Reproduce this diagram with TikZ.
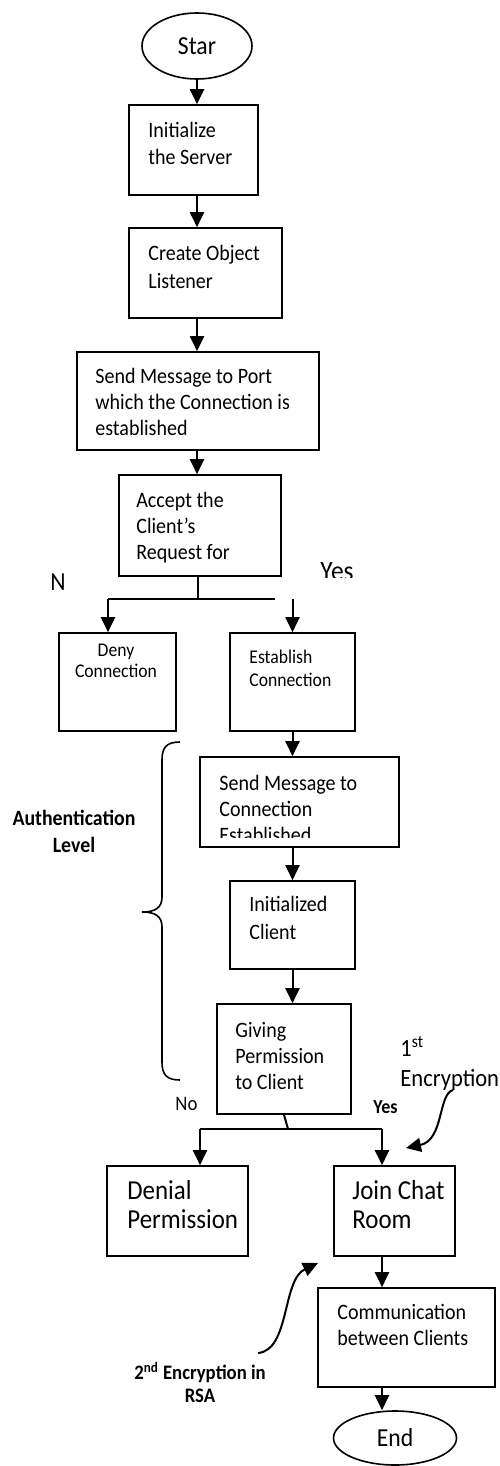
\documentclass[tikz,border=0pt]{standalone}
\usepackage{fontspec}
\setmainfont{Carlito}[FakeStretch=0.91]
\usetikzlibrary{arrows.meta,shapes.geometric,fit}
\newcommand{\fs}[2]{\fontsize{#1}{#2}\selectfont}

\begin{document}
\begin{tikzpicture}[x=0.5pt,y=-0.5pt,
    box/.style={draw,line width=0.8pt,inner sep=0pt},
    term/.style={draw,ellipse,line width=0.8pt,inner sep=0pt,font=\fs{13}{15}},
    txt/.style={inner sep=0pt,align=left,anchor=north west,font=\fs{11}{13}},
    tag/.style={inner sep=0pt,anchor=base west},
    lbl/.style={inner sep=0pt,align=center,anchor=north,font=\bfseries\fs{10.9}{13.5}},
    arr/.style={-{Triangle[length=7.5pt,width=7pt]},line width=1pt},
    wire/.style={line width=1pt}]
     \useasboundingbox (0,0) rectangle (499,1466);
     % main column
     \node[term,minimum width=55pt,minimum height=33pt] (star) at (197,46) {Star};
     \node[box,fit={(129,105) (258,195)}] (init) {};
     \node[txt,font=\fs{11}{13.5}] (init-t) at (148,122) {Initialize\\the Server};
     \node[box,fit={(129,228) (282,318)}] (obj) {};
     \node[txt,font=\fs{11}{14}] (obj-t) at (148,245) {Create Object\\Listener};
     \node[box,fit={(77,352) (319,450)}] (port) {};
     \node[txt] (port-t) at (95,368) {Send Message to Port\\which the Connection is\\established};
     \node[box,fit={(119,475) (281,576)}] (accept) {};
     \node[txt] (accept-t) at (136,492) {Accept the\\Client’s\\Request for};
     \draw[arr] (star.south) -- (star.south |- init.north);
     \draw[arr] (init.south -| star) -- (obj.north -| star);
     \draw[arr] (obj.south -| star) -- (port.north -| star);
     \draw[arr] (port.south -| star) -- (accept.north -| star);
     % first decision
     \node[tag,font=\fs{13}{15}] (n-lbl) at (50,590) {N};
     \begin{scope}
      \clip (300,540) rectangle (380,577);
      \node[tag,font=\fs{14}{16}] (yes-lbl) at (320,580) {Yes};
     \end{scope}
     \node[box,fit={(59,633) (176,731)}] (deny) {};
     \node[txt,anchor=north,align=center,font=\fs{9.7}{10.5}] (deny-t) at (116,644) {Deny\\Connection};
     \node[box,fit={(230,633) (355,731)}] (estab) {};
     \node[txt,font=\fs{9.7}{11.5}] (estab-t) at (249,650) {Establish\\Connection};
     \coordinate (fork) at (198,599);
     \coordinate (forkL) at (108,599);
     \coordinate (forkR) at (275,599);
     \draw[wire] (accept.south -| fork) -- (fork);
     \draw[wire] (forkL) -- (forkR);
     \draw[arr] (forkL) -- (forkL |- deny.north);
     \draw[arr] (estab.north |- forkR) -- (estab.north);
     % authentication level
     \node[box,fit={(200,757) (399,847)}] (sendc) {};
     \begin{scope}
      \clip (200,757) rectangle (399,837);
      \node[txt] (sendc-t) at (219,775) {Send Message to\\Connection\\Established};
     \end{scope}
     \node[box,fit={(230,881) (355,969)}] (initc) {};
     \node[txt,font=\fs{11}{14}] (initc-t) at (249,896) {Initialized\\Client};
     \node[box,fit={(217,1004) (351,1114)}] (giving) {};
     \node[txt] (giving-t) at (235,1022) {Giving\\Permission\\to Client};
     \draw[arr] (estab.south) -- (estab.south |- sendc.north);
     \draw[arr] (sendc.south -| estab) -- (initc.north -| estab);
     \draw[arr] (initc.south) -- (initc.south |- giving.north);
     \draw[line width=0.8pt] (180,742) .. controls (166,742) and (162,748) .. (162,760)
        -- (162,897) .. controls (162,908) and (155,912) .. (142,912)
        .. controls (155,912) and (162,916) .. (162,927)
        -- (162,1062) .. controls (162,1075) and (167,1080) .. (180,1080);
     \node[lbl] (auth) at (74,810) {Authentication\\Level};
     % second decision
     \node[tag,font=\fs{10.3}{12}] (no-lbl) at (175,1110) {No};
     \node[tag,font=\bfseries\fs{9.9}{12}] (yes2-lbl) at (373,1113) {Yes};
     \node[box,fit={(107,1166) (248,1256)}] (denial) {};
     \node[txt,font=\fs{13.7}{14.5}] (denial-t) at (127,1180) {Denial\\Permission};
     \node[box,fit={(334,1166) (455,1256)}] (join) {};
     \node[txt,font=\fs{13.7}{14.5}] (join-t) at (352,1180) {Join Chat\\Room};
     \coordinate (fork2) at (288,1129);
     \coordinate (fork2L) at (200,1129);
     \coordinate (fork2R) at (382,1129);
     \draw[wire] (giving.south) -- (fork2);
     \draw[wire] (fork2L) -- (fork2R);
     \draw[arr] (fork2L) -- (fork2L |- denial.north);
     \draw[arr] (fork2R) -- (fork2R |- join.north);
     % chat
     \node[box,fit={(318,1288) (495,1387)}] (comm) {};
     \node[txt] (comm-t) at (337,1304) {Communication\\between Clients};
     \node[term,minimum width=61.5pt,minimum height=27pt] (stop) at (395,1438) {End};
     \draw[arr] (fork2R |- join.south) -- (fork2R |- comm.north);
     \draw[arr] (fork2R |- comm.south) -- (fork2R |- stop.north);
     % encryption notes
     \node[txt,font=\fs{12.4}{15}] (enc1) at (400,1036) {1\textsuperscript{st}\\Encryption};
     \coordinate (enc1-a) at (453,1090);
     \coordinate (enc1-b) at (406,1148);
     \draw[arr] (enc1-a) .. controls (438,1094) and (444,1140) .. (enc1-b);
     \node[lbl,font=\bfseries\fs{10.3}{11.5}] (enc2) at (200,1362) {2\textsuperscript{nd} Encryption in\\RSA};
     \coordinate (enc2-a) at (258,1353);
     \coordinate (enc2-b) at (318,1263);
     \draw[arr] (enc2-a) .. controls (290,1350) and (282,1280) .. (enc2-b);
\end{tikzpicture}
\end{document}
